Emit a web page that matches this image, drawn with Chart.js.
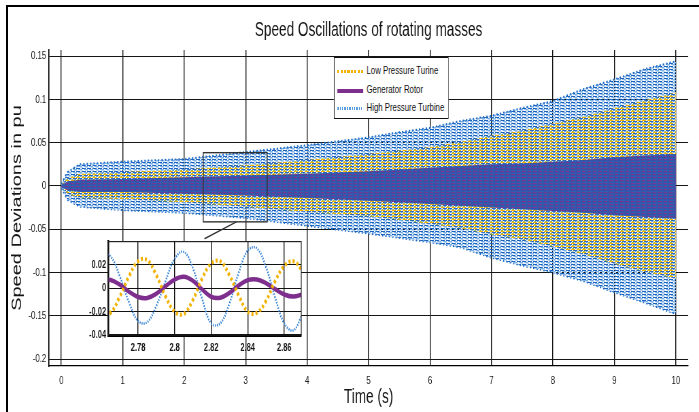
<!DOCTYPE html>
<html>
<head>
<meta charset="utf-8">
<title>Speed Oscillations of rotating masses</title>
<script src="https://cdn.jsdelivr.net/npm/chart.js@4.4.1/dist/chart.umd.min.js"></script>
<style>
  html, body { margin: 0; padding: 0; background: #fff; overflow: hidden; }
  /* the figure is drawn wide and squeezed horizontally, like the original export */
  #stage { position: absolute; left: 0; top: 0; width: 1028px; height: 412px; transform: scaleX(0.68); transform-origin: 0 0; }
  #mainChart { position: absolute; left: 0; top: 0; }
  #insetChart { position: absolute; left: 103px; top: 232px; }
  #legend {
    position: absolute; left: 491px; top: 57px; width: 167px; height: 56px;
    padding-top: 4px; background: #fff;
    border-top: 1px solid #111; border-bottom: 1px solid #111;
    border-left: 1.5px solid #111; border-right: 1.5px solid #111;
    font-family: 'Liberation Sans', Arial, sans-serif; font-size: 11.5px; color: #111;
  }
  .row { position: relative; height: 18.5px; }
  .sample { position: absolute; left: 4px; width: 38px; top: 8px; height: 3px; }
  .row span { position: absolute; left: 47px; top: 2px; white-space: nowrap; }
  #frame { position: absolute; left: 6px; top: 5px; right: -4px; bottom: -4px; border-left: 2px solid #000; border-top: 2px solid #000; pointer-events: none; }
</style>
</head>
<body>
<div id="stage">
  <canvas id="mainChart" width="1028" height="412"></canvas>
  <canvas id="insetChart" width="353" height="128"></canvas>
  <div id="legend"></div>
</div>
<div id="frame"></div>

<script>
// ---------------- data ----------------
const chartTitle  = "Speed Oscillations of rotating masses";
const xTitle      = "Time (s)";
const yTitle      = "Speed Deviations in pu";
const seriesNames = ["Low Pressure Turine", "Generator Rotor", "High Pressure Turbine"];

// main axes ticks
const xTicks = [0, 1, 2, 3, 4, 5, 6, 7, 8, 9, 10];
const yTicks = [0.15, 0.1, 0.05, 0, -0.05, -0.1, -0.15, -0.2];

// envelope of the oscillations (upper / lower extent of each trace)
const timeMain = [0, 0.1, 0.3, 1, 2, 3, 4, 5, 5.5, 6, 6.5, 7, 7.5, 8, 8.5, 9, 9.5, 10];
const hpUpper  = [0.002, 0.016, 0.025, 0.028, 0.031, 0.039, 0.047, 0.056, 0.062, 0.067, 0.075, 0.081, 0.090, 0.098, 0.112, 0.123, 0.135, 0.144];
const hpLower  = [-0.002, -0.016, -0.024, -0.028, -0.031, -0.037, -0.046, -0.055, -0.060, -0.065, -0.071, -0.083, -0.092, -0.100, -0.110, -0.123, -0.135, -0.148];
const lpUpper  = [0.001, 0.009, 0.014, 0.016, 0.019, 0.024, 0.030, 0.037, 0.041, 0.045, 0.051, 0.058, 0.064, 0.072, 0.080, 0.090, 0.099, 0.108];
const lpLower  = [-0.001, -0.009, -0.014, -0.015, -0.019, -0.024, -0.030, -0.035, -0.039, -0.044, -0.049, -0.056, -0.062, -0.070, -0.079, -0.090, -0.099, -0.107];
const genUpper = [0.001, 0.005, 0.007, 0.008, 0.010, 0.012, 0.014, 0.017, 0.019, 0.021, 0.023, 0.025, 0.026, 0.028, 0.030, 0.033, 0.035, 0.037];
const genLower = [-0.001, -0.005, -0.007, -0.007, -0.009, -0.011, -0.014, -0.017, -0.019, -0.021, -0.023, -0.025, -0.027, -0.029, -0.031, -0.034, -0.036, -0.038];

// zoom box on the main axes and its leader line (data units)
const zoomBoxX   = [2.31, 3.35];
const zoomBoxY   = [-0.0415, 0.0384];
const connectorX = [2.85, 2.33];
const connectorY = [-0.0415, -0.061];

// inset (zoomed view around t = 2.8 s)
const insetXRange = [2.7636, 2.8693];
const insetYRange = [-0.04, 0.0398];
const insetXTicks = [2.78, 2.8, 2.82, 2.84, 2.86];
const insetYTicks = [-0.04, -0.02, 0, 0.02];
const timeInset = [2.760, 2.765, 2.770, 2.775, 2.780, 2.785, 2.790, 2.795, 2.800, 2.805, 2.810, 2.815,
                   2.820, 2.825, 2.830, 2.835, 2.840, 2.845, 2.850, 2.855, 2.860, 2.865, 2.870];
const hpInset  = [0.029, 0.027, 0.010, -0.012, -0.028, -0.029, -0.015, 0.006, 0.025, 0.031, 0.017, -0.009,
                  -0.030, -0.030, -0.013, 0.013, 0.032, 0.034, 0.018, -0.008, -0.030, -0.036, -0.022];
const lpInset  = [-0.022, -0.021, -0.007, 0.010, 0.023, 0.024, 0.011, -0.007, -0.020, -0.022, -0.010, 0.008,
                  0.021, 0.023, 0.011, -0.006, -0.020, -0.021, -0.011, 0.006, 0.019, 0.023, 0.015];
const genInset = [0.007, 0.007, 0.003, -0.003, -0.0075, -0.0083, -0.0047, 0.0016, 0.0074, 0.0097, 0.0064, -0.001,
                  -0.0073, -0.0081, -0.004, 0.0022, 0.0069, 0.0075, 0.0043, -0.0008, -0.0054, -0.0072, -0.0053];

// ---------------- styling ----------------
const FONT = "'Liberation Sans', Arial, sans-serif";
const LP_COLOR  = "#f2b200";
const GEN_COLOR = "#7e2f8e";
const HP_COLOR  = "#3a86d6";

function pts(xs, ys) {
    return xs.map((x, i) => ({ x: x, y: ys[i] }));
}

// small tiles that imitate the dense dashed traces
function makePattern(w, h, paint) {
    const c = document.createElement("canvas");
    c.width = w; c.height = h;
    const g = c.getContext("2d");
    paint(g);
    return g.createPattern(c, "repeat");
}

const hpPattern = makePattern(8, 3, g => {
    g.fillStyle = "#1a64c0"; g.fillRect(0, 0, 6, 1);
    g.fillStyle = "#7fb2e6"; g.fillRect(3, 1, 5, 1); g.fillRect(0, 1, 1, 1);
    g.fillStyle = "#b9d5f2"; g.fillRect(5, 2, 3, 1); g.fillRect(0, 2, 2, 1);
});
const lpPattern = makePattern(8, 3, g => {
    g.fillStyle = "#fff"; g.fillRect(0, 0, 8, 3);
    g.fillStyle = "#f0b400"; g.fillRect(0, 0, 6, 1);
    g.fillStyle = "#2a68c0"; g.fillRect(3, 1, 5, 1); g.fillRect(0, 1, 1, 1);
    g.fillStyle = "#9db64a"; g.fillRect(1, 2, 3, 1);
    g.fillStyle = "#6a9fd8"; g.fillRect(5, 2, 3, 1);
});
const genPattern = makePattern(8, 3, g => {
    g.fillStyle = "#3653a8"; g.fillRect(0, 0, 8, 3);
    g.fillStyle = "#7a3690"; g.fillRect(0, 0, 5, 1);
    g.fillStyle = "#2f60b8"; g.fillRect(2, 2, 5, 1);
});

// ---------------- plugins ----------------
const zoomBoxPlugin = {
    id: "zoomBox",
    afterDatasetsDraw(chart) {
        const { ctx, scales: { x, y } } = chart;
        const x0 = x.getPixelForValue(zoomBoxX[0]);
        const x1 = x.getPixelForValue(zoomBoxX[1]);
        const y0 = y.getPixelForValue(zoomBoxY[1]);
        const y1 = y.getPixelForValue(zoomBoxY[0]);
        ctx.save();
        ctx.strokeStyle = "#333";
        ctx.lineWidth = 1.4;
        ctx.strokeRect(x0, y0, x1 - x0, y1 - y0);
        ctx.beginPath();
        ctx.moveTo(x.getPixelForValue(connectorX[0]), y.getPixelForValue(connectorY[0]));
        ctx.lineTo(x.getPixelForValue(connectorX[1]), y.getPixelForValue(connectorY[1]));
        ctx.stroke();
        ctx.restore();
    }
};

const insetFramePlugin = {
    id: "insetFrame",
    beforeDraw(chart) {
        const { ctx, chartArea: a } = chart;
        ctx.save();
        ctx.fillStyle = "#fff";
        ctx.fillRect(a.left, a.top, a.right - a.left, a.bottom - a.top);
        ctx.restore();
    },
    afterDraw(chart) {
        const { ctx, chartArea: a } = chart;
        ctx.save();
        ctx.strokeStyle = "#222";
        ctx.lineWidth = 1.2;
        ctx.strokeRect(a.left, a.top, a.right - a.left, a.bottom - a.top);
        ctx.restore();
    }
};

// ---------------- main chart ----------------
const band = { pointRadius: 0, borderWidth: 0, tension: 0, clip: 0 };

new Chart(document.getElementById("mainChart"), {
    type: "line",
    data: {
        datasets: [
            { ...band, label: seriesNames[1], data: pts(timeMain, genUpper), fill: "+1", backgroundColor: genPattern },
            { ...band, data: pts(timeMain, genLower), fill: false },
            { ...band, label: seriesNames[0], data: pts(timeMain, lpUpper), fill: "+1", backgroundColor: lpPattern },
            { ...band, data: pts(timeMain, lpLower), fill: false },
            { ...band, label: seriesNames[2], data: pts(timeMain, hpUpper), fill: "+1", backgroundColor: hpPattern,
              borderWidth: 2, borderColor: "#1f6cc6", borderDash: [2, 3] },
            { ...band, data: pts(timeMain, hpLower), fill: false,
              borderWidth: 2, borderColor: "#1f6cc6", borderDash: [2, 3] }
        ]
    },
    options: {
        responsive: false,
        animation: false,
        devicePixelRatio: 1,
        layout: { padding: { left: 0, right: 16, top: 0, bottom: 0 } },
        plugins: {
            legend: { display: false },
            tooltip: { enabled: false },
            title: {
                display: true, text: chartTitle, fullSize: false, color: "#151515",
                font: { family: FONT, size: 20, weight: "normal" },
                padding: { top: 18.6, bottom: 7.4 }
            }
        },
        scales: {
            x: {
                type: "linear", min: -0.2, max: 10.2,
                afterBuildTicks: s => { s.ticks = xTicks.map(v => ({ value: v })); },
                afterFit: s => { s.height = 46; },
                grid: { color: "#151515", lineWidth: 1.4, drawTicks: false },
                border: { display: true, color: "#000", width: 1.2 },
                ticks: { padding: 8, color: "#1a1a1a", font: { family: FONT, size: 11.5 }, callback: v => String(v) },
                title: { display: true, text: xTitle, color: "#151515", font: { family: FONT, size: 20 }, padding: { top: 0, bottom: 3 } }
            },
            y: {
                min: -0.208, max: 0.157,
                afterBuildTicks: s => { s.ticks = yTicks.map(v => ({ value: v })); },
                afterFit: s => { s.width = 72; },
                grid: { color: "#151515", lineWidth: 1, drawTicks: false },
                border: { display: true, color: "#000", width: 1.6 },
                ticks: { padding: 4, color: "#1a1a1a", font: { family: FONT, size: 11.5 }, callback: v => String(v) },
                title: { display: true, text: yTitle, color: "#151515", font: { family: FONT, size: 20 }, padding: { top: 13, bottom: 0 } }
            }
        }
    },
    plugins: [zoomBoxPlugin]
});

// ---------------- inset ----------------
new Chart(document.getElementById("insetChart"), {
    type: "line",
    data: {
        datasets: [
            { label: seriesNames[0], data: pts(timeInset, lpInset), borderColor: LP_COLOR, borderWidth: 4,
              borderDash: [3, 3], pointRadius: 0, tension: 0.4, fill: false, clip: 0 },
            { label: seriesNames[1], data: pts(timeInset, genInset), borderColor: GEN_COLOR, borderWidth: 4.5,
              pointRadius: 0, tension: 0.4, fill: false, clip: 0 },
            { label: seriesNames[2], data: pts(timeInset, hpInset), borderColor: HP_COLOR, borderWidth: 2.5,
              borderDash: [1.5, 1.5], pointRadius: 0, tension: 0.4, fill: false, clip: 0 }
        ]
    },
    options: {
        responsive: false,
        animation: false,
        devicePixelRatio: 1,
        layout: { padding: { left: 0, right: 13, top: 6, bottom: 0 } },
        plugins: { legend: { display: false }, tooltip: { enabled: false } },
        scales: {
            x: {
                type: "linear", min: insetXRange[0], max: insetXRange[1],
                afterBuildTicks: s => { s.ticks = insetXTicks.map(v => ({ value: v })); },
                afterFit: s => { s.height = 25; },
                grid: { color: "#111", lineWidth: 1.4, drawTicks: false },
                border: { display: true, color: "#000", width: 3 },
                ticks: { padding: 6, color: "#111", font: { family: FONT, size: 11, weight: "bold" }, callback: v => String(v) }
            },
            y: {
                min: insetYRange[0], max: insetYRange[1],
                afterBuildTicks: s => { s.ticks = insetYTicks.map(v => ({ value: v })); },
                afterFit: s => { s.width = 56; },
                grid: { color: "#111", lineWidth: 1, drawTicks: false },
                border: { display: true, color: "#000", width: 2.5 },
                ticks: { padding: 3, color: "#111", font: { family: FONT, size: 11, weight: "bold" }, callback: v => String(v) }
            }
        }
    },
    plugins: [insetFramePlugin]
});

// ---------------- legend ----------------
const legendSamples = [
    "background: repeating-linear-gradient(90deg, " + LP_COLOR + " 0 3px, transparent 3px 5px);",
    "background: " + GEN_COLOR + "; height: 4px;",
    "background: repeating-linear-gradient(90deg, #5c9fe0 0 2px, transparent 2px 3.5px);"
];
document.getElementById("legend").innerHTML = seriesNames.map((name, i) => `
    <div class="row"><div class="sample" style="${legendSamples[i]}"></div><span>${name}</span></div>
`).join("");
</script>
</body>
</html>
